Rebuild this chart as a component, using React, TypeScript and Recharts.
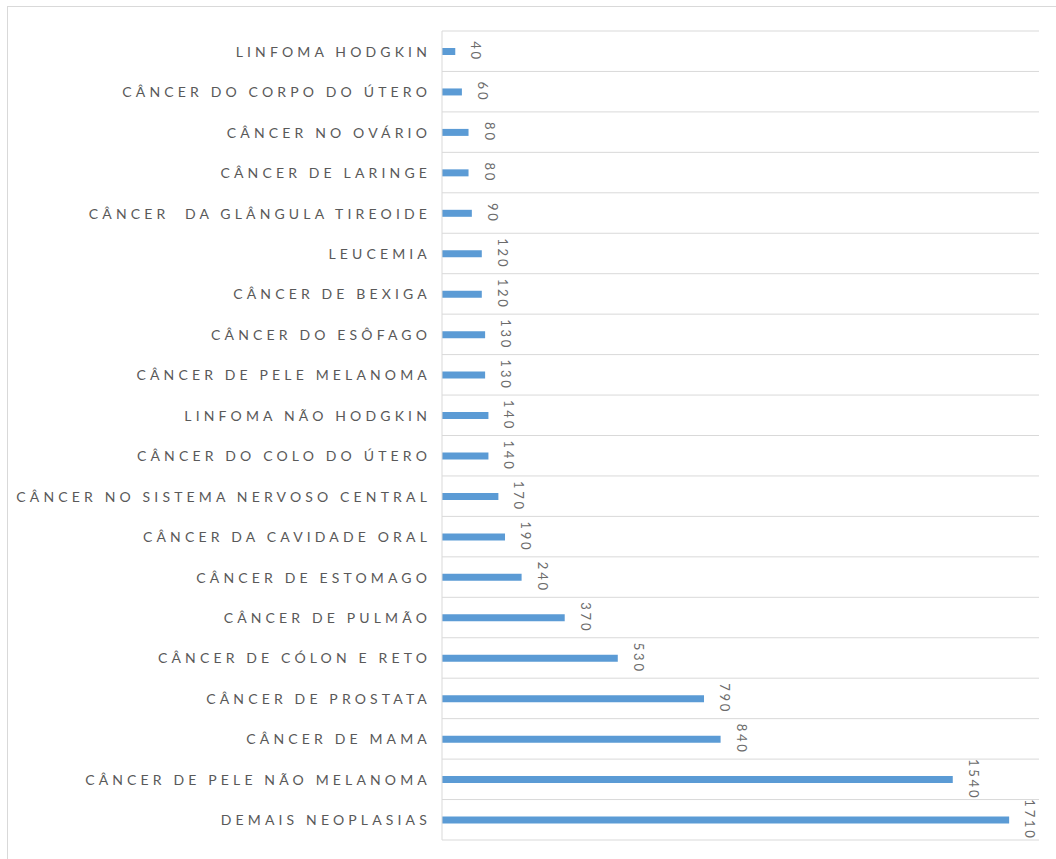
import { BarChart, Bar, XAxis, YAxis, CartesianGrid, LabelList } from "recharts";

const categories = [
  "LINFOMA HODGKIN",
  "CÂNCER DO CORPO DO ÚTERO",
  "CÂNCER NO OVÁRIO",
  "CÂNCER DE LARINGE",
  "CÂNCER  DA GLÂNGULA TIREOIDE",
  "LEUCEMIA",
  "CÂNCER DE BEXIGA",
  "CÂNCER DO ESÔFAGO",
  "CÂNCER DE PELE MELANOMA",
  "LINFOMA NÃO HODGKIN",
  "CÂNCER DO COLO DO ÚTERO",
  "CÂNCER NO SISTEMA NERVOSO CENTRAL",
  "CÂNCER DA CAVIDADE ORAL",
  "CÂNCER DE ESTOMAGO",
  "CÂNCER DE PULMÃO",
  "CÂNCER DE CÓLON E RETO",
  "CÂNCER DE PROSTATA",
  "CÂNCER DE MAMA",
  "CÂNCER DE PELE NÃO MELANOMA",
  "DEMAIS NEOPLASIAS",
];

const casos = [
  40, 60, 80, 80, 90, 120, 120, 130, 130, 140, 140, 170, 190, 240, 370, 530,
  790, 840, 1540, 1710,
];

const data = categories.map((name, i) => ({ name, casos: casos[i] }));

const GRAY = "#595959";
const LINE = "#d9d9d9";
const FONT = "Lato, 'Open Sans', sans-serif";

// linhas de grade nas divisas entre categorias, não no centro
const bandLines = ({ offset }: any) => {
  const step = offset.height / categories.length;
  return categories.map((_, i) => offset.top + i * step).concat(offset.top + offset.height);
};

const CategoryTick = ({ x, y, payload }: any) => (
  <text
    x={x}
    y={y}
    textAnchor="end"
    dominantBaseline="central"
    fill={GRAY}
    fontSize={14}
    fontFamily={FONT}
    letterSpacing={4.15}
    style={{ whiteSpace: "pre" }}
  >
    {payload.value}
  </text>
);

const ValueLabel = ({ x, y, width, height, value }: any) => {
  const cx = x + width + 16;
  const cy = y + height / 2;
  return (
    <text
      x={cx}
      y={cy}
      transform={`rotate(90, ${cx}, ${cy})`}
      textAnchor="middle"
      fill="#6b6b6b"
      fontSize={13}
      fontFamily={FONT}
      letterSpacing={2.8}
    >
      {value}
    </text>
  );
};

export default function App() {
  return (
    <div
      style={{
        position: "absolute",
        left: 0,
        top: 0,
        width: 1056,
        height: 859,
        overflow: "hidden",
        background: "#fff",
      }}
    >
      <div
        style={{
          position: "absolute",
          left: 7,
          top: 6,
          width: 1100,
          height: 900,
          border: `1px solid ${LINE}`,
        }}
      />
      <div style={{ position: "absolute", left: 0, top: 0 }}>
        <BarChart
          width={1056}
          height={859}
          data={data}
          layout="vertical"
          margin={{ top: 31, right: 17, bottom: 19, left: 0 }}
        >
          <CartesianGrid
            vertical={false}
            stroke={LINE}
            horizontalCoordinatesGenerator={bandLines}
          />
          <XAxis type="number" domain={[0, 1800]} hide />
          <YAxis
            type="category"
            dataKey="name"
            width={442}
            axisLine={{ stroke: LINE }}
            tickLine={false}
            tickMargin={5}
            interval={0}
            tick={<CategoryTick />}
          />
          <Bar dataKey="casos" fill="#5b9bd5" barSize={7} isAnimationActive={false}>
            <LabelList dataKey="casos" content={<ValueLabel />} />
          </Bar>
        </BarChart>
      </div>
    </div>
  );
}
